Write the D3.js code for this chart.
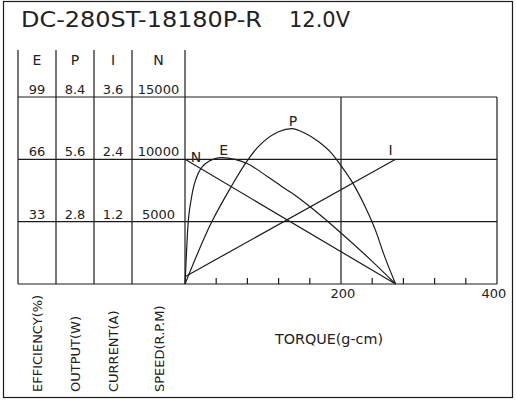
<!DOCTYPE html>
<html lang="en">
<head>
<meta charset="UTF-8"/>
<title>DC-280ST-18180P-R motor curve</title>
<script src="https://d3js.org/d3.v7.min.js"></script>
<style>
    body { margin: 0; background: #fff; }
    text { font-family: "DejaVu Sans", sans-serif; fill: #222; }
</style>
</head>
<body>
<script>
    // chart data
    var title = "DC-280ST-18180P-R";
    var voltage = "12.0V";
    var colHeads = ["E", "P", "I", "N"];
    var effTicks = ["33", "66", "99"];
    var outTicks = ["2.8", "5.6", "8.4"];
    var curTicks = ["1.2", "2.4", "3.6"];
    var speedTicks = [5000, 10000, 15000];
    var colUnits = ["EFFICIENCY(%)", "OUTPUT(W)", "CURRENT(A)", "SPEED(R.P.M)"];
    var torqueTicks = [40, 80, 120, 160, 240, 280, 320, 360];
    var torqueLabels = [200, 400];

    // torque (g-cm) vs value
    var speedPts = [[0, 10000], [270, 0]];
    var currentPts = [[0, 0.14], [270, 2.4]];
    var outputPts = [[0, 0], [34, 2.77], [58, 4.3], [79, 5.5], [94, 6.17], [120, 6.84], [137, 6.98],
        [154, 6.77], [171, 6.4], [188, 5.87], [201, 5.27], [214, 4.6], [231, 3.47], [244, 2.43],
        [256, 1.23], [270, 0]];
    var effPts = [[0, 0], [1.5, 13], [3.4, 28.6], [8.5, 46.2], [17, 58.6], [30, 64.8], [47, 66.9],
        [64, 66], [79, 63.9], [107, 56.5], [128, 50.5], [141, 47], [160, 41], [200, 27],
        [240, 12], [270, 0]];

    var w = 516, h = 400;
    var plotL = 185, plotR = 497, plotT = 97, plotB = 284;
    var colEdges = [18, 56, 94, 132, 185];

    var svg = d3.select("body").append("svg")
        .attr("width", w)
        .attr("height", h);

    var ink = "#1c1c1c";

    //scales
    var xScale = d3.scaleLinear().domain([0, 400]).range([plotL, plotR]);
    var ySpeed = d3.scaleLinear().domain([0, 15000]).range([plotB, plotT]);
    var yEff = d3.scaleLinear().domain([0, 99]).range([plotB, plotT]);
    var yOut = d3.scaleLinear().domain([0, 8.4]).range([plotB, plotT]);
    var yCur = d3.scaleLinear().domain([0, 3.6]).range([plotB, plotT]);

    //outer frame
    svg.append("rect")
        .attr("x", 3.5).attr("y", 1.5)
        .attr("width", 509).attr("height", 396)
        .attr("fill", "none").attr("stroke", ink).attr("stroke-width", 1.2);

    //title
    svg.append("text").text(title)
        .attr("x", 21).attr("y", 27)
        .attr("font-size", "21px")
        .attr("textLength", 241).attr("lengthAdjust", "spacingAndGlyphs");
    svg.append("text").text(voltage)
        .attr("x", 289).attr("y", 27)
        .attr("font-size", "21px")
        .attr("textLength", 61).attr("lengthAdjust", "spacingAndGlyphs");

    //table columns
    svg.selectAll("line.col")
        .data(colEdges)
        .enter()
        .append("line")
        .attr("x1", function (d) { return d; })
        .attr("x2", function (d) { return d; })
        .attr("y1", 50)
        .attr("y2", plotB)
        .attr("stroke", ink).attr("stroke-width", 1.2);

    //horizontal grid lines incl. axis
    svg.selectAll("line.hgrid")
        .data([0].concat(speedTicks))
        .enter()
        .append("line")
        .attr("x1", colEdges[0])
        .attr("x2", plotR)
        .attr("y1", function (d) { return ySpeed(d); })
        .attr("y2", function (d) { return ySpeed(d); })
        .attr("stroke", ink).attr("stroke-width", 1.2);

    //vertical grid lines at 200 and 400
    svg.selectAll("line.vgrid")
        .data(torqueLabels)
        .enter()
        .append("line")
        .attr("x1", function (d) { return xScale(d); })
        .attr("x2", function (d) { return xScale(d); })
        .attr("y1", plotT)
        .attr("y2", plotB)
        .attr("stroke", ink).attr("stroke-width", 1.2);

    //ticks pointing up
    svg.selectAll("line.tick")
        .data(torqueTicks)
        .enter()
        .append("line")
        .attr("x1", function (d) { return xScale(d); })
        .attr("x2", function (d) { return xScale(d); })
        .attr("y1", plotB)
        .attr("y2", plotB - 6)
        .attr("stroke", ink).attr("stroke-width", 1.2);

    svg.selectAll("text.xlab")
        .data(torqueLabels)
        .enter()
        .append("text")
        .text(function (d) { return d; })
        .attr("x", function (d, i) { return xScale(d) + (i ? -3 : 2); })
        .attr("y", 298)
        .attr("text-anchor", "middle")
        .attr("font-size", "13px");

    //column headers and values
    var colCenters = [37, 75, 113, 158.5];
    svg.selectAll("text.head")
        .data(colHeads)
        .enter()
        .append("text")
        .text(function (d) { return d; })
        .attr("x", function (d, i) { return colCenters[i]; })
        .attr("y", 65)
        .attr("text-anchor", "middle")
        .attr("font-size", "14px");

    var cols = [effTicks, outTicks, curTicks, speedTicks];
    var scales = [yEff, yOut, yCur, ySpeed];
    cols.forEach(function (vals, i) {
        svg.selectAll("text.v" + i)
            .data(vals)
            .enter()
            .append("text")
            .text(function (d) { return d; })
            .attr("x", colCenters[i])
            .attr("y", function (d) { return scales[i](+d) - 3; })
            .attr("text-anchor", "middle")
            .attr("font-size", "13px");
    });

    //rotated unit labels
    svg.selectAll("text.unit")
        .data(colUnits)
        .enter()
        .append("text")
        .text(function (d) { return d; })
        .attr("transform", function (d, i) {
            return "translate(" + (colCenters[i] + 5) + ",392) rotate(-90)";
        })
        .attr("font-size", "13px");

    svg.append("text").text("TORQUE(g-cm)")
        .attr("x", 275).attr("y", 344)
        .attr("font-size", "14px")
        .attr("textLength", 108).attr("lengthAdjust", "spacingAndGlyphs");

    //curves
    function curve(yS, pts, straight) {
        var line = d3.line()
            .x(function (d) { return xScale(d[0]); })
            .y(function (d) { return yS(d[1]); })
            .curve(straight ? d3.curveLinear : d3.curveMonotoneX);
        svg.append("path")
            .attr("d", line(pts))
            .attr("fill", "none")
            .attr("stroke", ink)
            .attr("stroke-width", 1.2);
    }
    curve(ySpeed, speedPts, true);
    curve(yCur, currentPts, true);
    curve(yOut, outputPts, false);
    curve(yEff, effPts, false);

    //curve names
    var curveNames = [
        { name: "N", x: xScale(speedPts[0][0]) + 11, y: ySpeed(speedPts[0][1]) + 3 },
        { name: "E", x: xScale(47) + 2, y: yEff(66.9) - 3 },
        { name: "P", x: xScale(137) + 1, y: yOut(6.98) - 3 },
        { name: "I", x: xScale(270) - 5, y: yCur(2.4) - 4 }
    ];
    svg.selectAll("text.cname")
        .data(curveNames)
        .enter()
        .append("text")
        .text(function (d) { return d.name; })
        .attr("x", function (d) { return d.x; })
        .attr("y", function (d) { return d.y; })
        .attr("text-anchor", "middle")
        .attr("font-size", "14px");
</script>
</body>
</html>
